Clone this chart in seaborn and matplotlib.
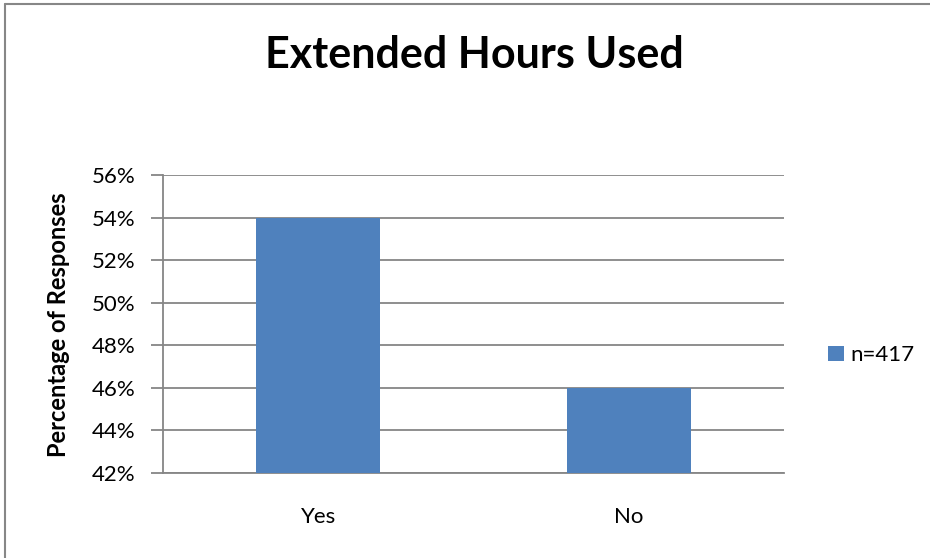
import pandas as pd
import matplotlib.pyplot as plt
import seaborn as sns
from matplotlib.ticker import PercentFormatter, MultipleLocator
from matplotlib.lines import Line2D

categories = ["Yes", "No"]
percentages = [0.54, 0.46]
series_label = "n=417"

df = pd.DataFrame({"answer": categories, "share": percentages})

sns.set_style("white")
plt.rcParams["font.family"] = ["Lato", "DejaVu Sans"]
plt.rcParams["text.color"] = "black"
plt.rcParams["axes.labelcolor"] = "black"

fig = plt.figure(figsize=(9.3, 5.58), dpi=100)
ax = fig.add_axes([163 / 930, 1 - 473 / 558, (784 - 163) / 930, (473 - 175) / 558])

bar_color = "#4F81BD"
grid_color = "#868686"

sns.barplot(data=df, x="answer", y="share", color=bar_color, width=0.4,
            saturation=1, linewidth=0, label=series_label, ax=ax, zorder=3)

ax.set_ylim(0.42, 0.56)
ax.set_xlim(-0.5, 1.5)
ax.yaxis.set_major_locator(MultipleLocator(0.02))
ax.yaxis.set_major_formatter(PercentFormatter(1.0, decimals=0))
ax.grid(axis="y", color=grid_color, linewidth=1.3, zorder=0)
ax.set_axisbelow(True)

for side in ["top", "right"]:
    ax.spines[side].set_visible(False)
for side in ["left", "bottom"]:
    ax.spines[side].set_color(grid_color)
    ax.spines[side].set_linewidth(1.3)

ax.tick_params(axis="y", left=True, length=9, width=1.3, color=grid_color,
               labelsize=16, pad=11, labelcolor="black")
ax.tick_params(axis="x", bottom=False, labelsize=16, pad=21, labelcolor="black")
ax.set_xlabel("")
ax.set_ylabel("Percentage of Responses", fontsize=17, fontweight="bold")
ax.yaxis.set_label_coords(-0.150, 0.497)

fig.text(474 / 930, 1 - 55 / 558, "Extended Hours Used", fontsize=31,
         fontweight="bold", ha="center", va="center")

ax.legend(loc="center left", bbox_to_anchor=(1.039, 0.395), frameon=False,
          fontsize=16, handlelength=0.7, handleheight=0.7, handletextpad=0.3)

# chart border (left and top edges visible)
fig.add_artist(Line2D([5 / 930, 5 / 930], [0, 1 - 4 / 558], transform=fig.transFigure,
                      color="#878787", linewidth=1.5))
fig.add_artist(Line2D([5 / 930, 1], [1 - 4 / 558, 1 - 4 / 558], transform=fig.transFigure,
                      color="#878787", linewidth=1.5))

fig.savefig("out.png", dpi=100)
